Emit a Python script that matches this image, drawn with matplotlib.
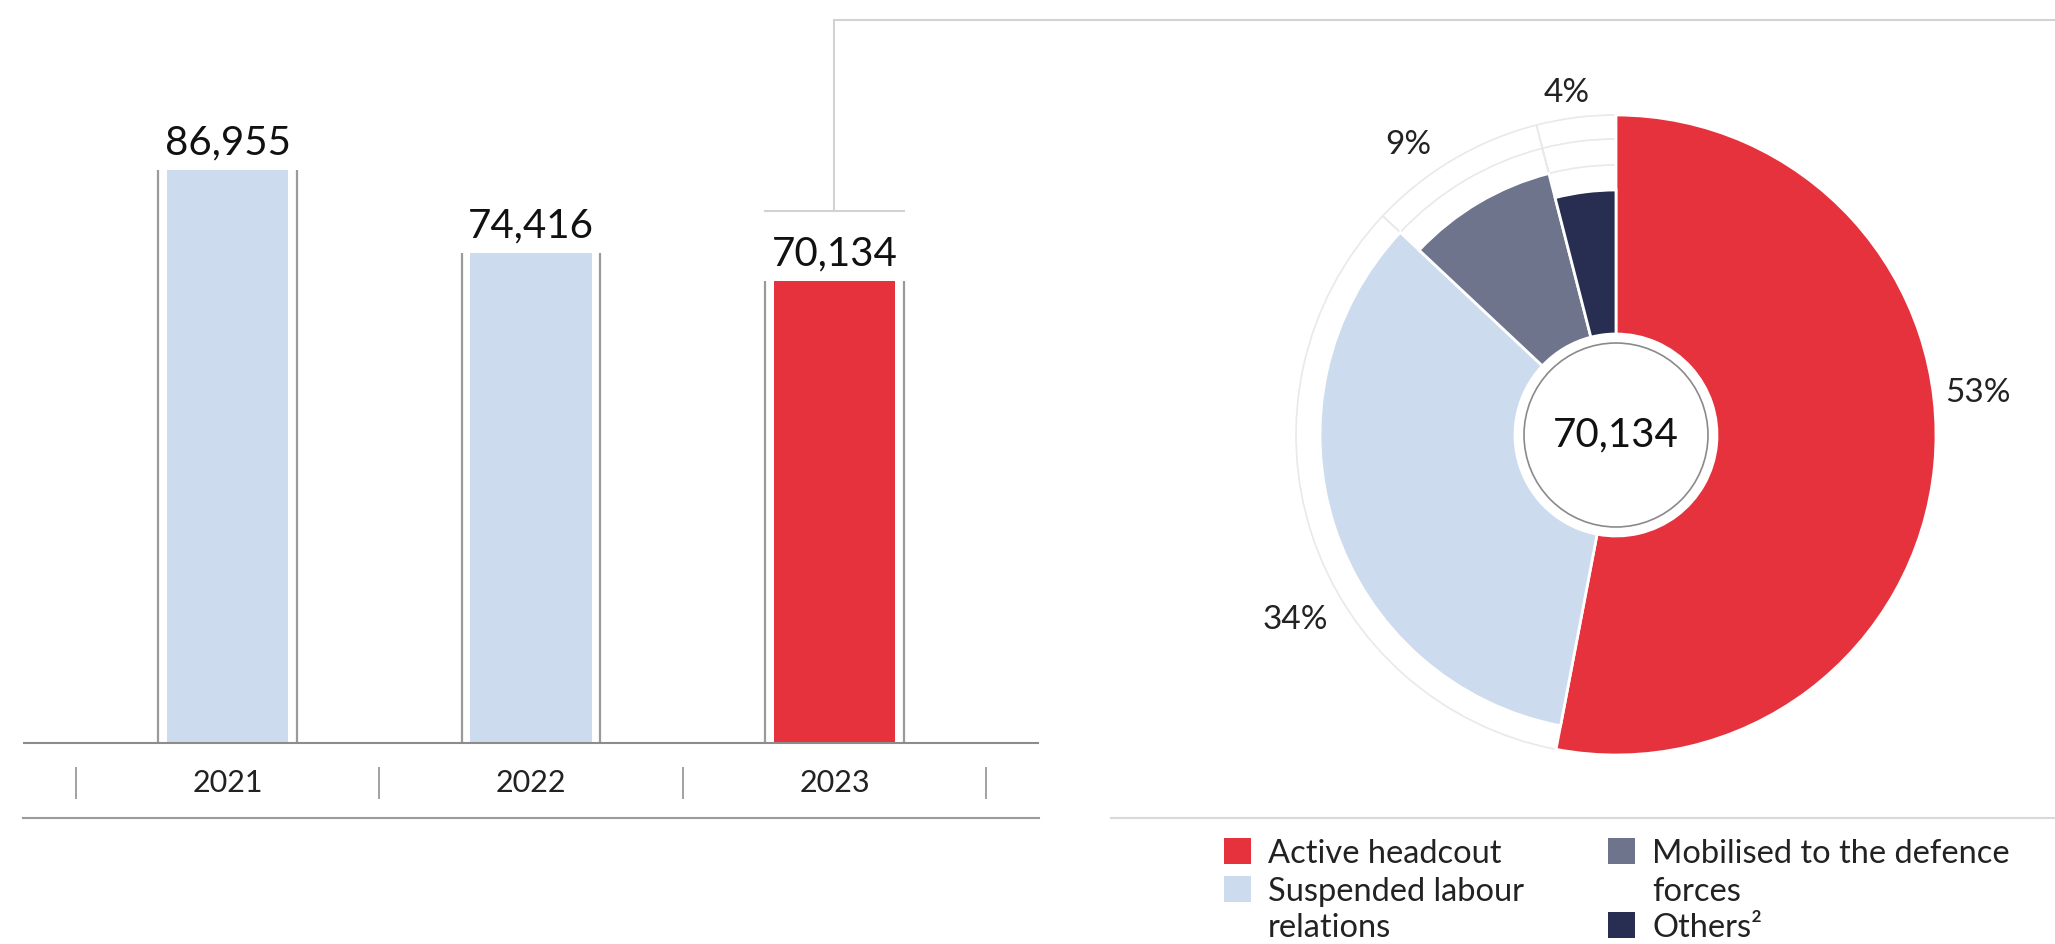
import matplotlib
matplotlib.use("Agg")
import matplotlib.pyplot as plt
import numpy as np
from matplotlib.patches import Wedge, Circle, Rectangle
from matplotlib.lines import Line2D

plt.rcParams['font.family'] = ['Lato', 'DejaVu Sans']

# data
years = ['2021', '2022', '2023']
headcount = [86955, 74416, 70134]
bar_colors = ['#ccdcee', '#ccdcee', '#e5323c']

groups = ['Active headcout', 'Suspended labour\nrelations',
          'Mobilised to the defence\nforces', 'Others²']
shares = [53, 34, 9, 4]
group_colors = ['#e5323c', '#ccdcee', '#6d748c', '#282e52']
total_2023 = '70,134'

W, H = 2055, 944
fig = plt.figure(figsize=(W / 100, H / 100), dpi=100, facecolor='white')


def px_axes(x0, y0, x1, y1):
    # pixel box (top-left origin) -> axes
    return fig.add_axes([x0 / W, 1 - y1 / H, (x1 - x0) / W, (y1 - y0) / H])


# ---------- bar chart ----------
ax = px_axes(23, 20, 1039, 818)
ax.set_xlim(-0.674, 2.674)
unit = 573 / 86955  # px per employee
ax.set_ylim(-(818 - 743) / unit, (743 - 20) / unit)
ax.axis('off')

x = np.arange(len(years))
ax.bar(x, headcount, width=0.4, color=bar_colors, zorder=2)
half = 0.229
ax.vlines(x - half, 0, headcount, color='#9a9a9a', lw=1.6, zorder=2)
ax.vlines(x + half, 0, headcount, color='#9a9a9a', lw=1.6, zorder=2)
for i, v in enumerate(headcount):
    ax.annotate(f'{v:,}', (x[i], v), xytext=(0, 11), textcoords='offset points',
                ha='center', va='baseline', fontsize=29, color='#111111')
    ax.text(x[i], -40 / unit, years[i], ha='center', va='center',
            fontsize=22, color='#222222')

ax.axhline(0, color='#8c8c8c', lw=1.5, zorder=3)
ax.axhline(ax.get_ylim()[0], color='#9a9a9a', lw=1.5, clip_on=False)
ax.vlines(np.arange(-0.5, len(years)), -24 / unit, -56 / unit,
          color='#9a9a9a', lw=1.3)

# connector from the 2023 bar to the donut panel
cap = headcount[2] + 70 / unit
ax.plot([x[2] - half, x[2] + half], [cap, cap], color='#d2d2d2', lw=1.5)
ax.plot([x[2], x[2]], [cap, ax.get_ylim()[1]], color='#d2d2d2', lw=1.5,
        clip_on=False)
xf = ax.transData.transform((x[2], 0))[0] / W
fig.add_artist(Line2D([xf, 1], [1 - 20 / H, 1 - 20 / H], color='#d2d2d2',
                      lw=1.5, transform=fig.transFigure))

# ---------- donut ----------
cx, cy, hs = 1616, 435, 430
ax2 = px_axes(cx - hs, cy - hs, cx + hs, cy + hs)
ax2.set_xlim(-hs, hs)
ax2.set_ylim(-hs, hs)
ax2.axis('off')

radii = [320, 296, 270, 245]
r_in = 101
label_shift = [12, 12, 5, 1]
label_r = [364, 370, 357, 346]

start = 90.0
for i, s in enumerate(shares):
    t2 = start
    t1 = start - s * 3.6
    start = t1
    ax2.add_patch(Wedge((0, 0), radii[i], t1, t2, width=radii[i] - r_in,
                        facecolor=group_colors[i], edgecolor='white', lw=2,
                        zorder=3))
    # faint guide rings for the shorter slices
    for rk in radii:
        if rk > radii[i]:
            ax2.add_patch(Wedge((0, 0), rk, t1, t2, width=rk - radii[i],
                                fill=False, edgecolor='#e9e9e9', lw=1.2,
                                zorder=1))
    ang = np.deg2rad((t1 + t2) / 2 + label_shift[i])
    ax2.text(label_r[i] * np.cos(ang), label_r[i] * np.sin(ang), f'{s}%',
             ha='center', va='center', fontsize=24, color='#222222')

ax2.add_patch(Circle((0, 0), 92, facecolor='white', edgecolor='#8a8a8a',
                     lw=1.2, zorder=4))
ax2.text(0, 0, total_2023, ha='center', va='center', fontsize=29,
         color='#111111', zorder=5)

# ---------- legend ----------
fig.add_artist(Line2D([1111 / W, 1], [1 - 818 / H, 1 - 818 / H],
                      color='#d9d9d9', lw=1.5, transform=fig.transFigure))
leg_x = [1224, 1608]
row_y = [851, 889, 925]
rows_used = [0, 0]
for i, name in enumerate(groups):
    col = i // 2
    lx = leg_x[col]
    r0 = rows_used[col]
    fig.add_artist(Rectangle((lx / W, 1 - (row_y[r0] + 13) / H), 27 / W, 26 / H,
                             facecolor=group_colors[i], edgecolor='none',
                             transform=fig.transFigure))
    for line in name.split('\n'):
        fig.text((lx + 44) / W, 1 - row_y[rows_used[col]] / H, line,
                 ha='left', va='center_baseline', fontsize=23.5,
                 color='#222222')
        rows_used[col] += 1

fig.savefig('out.png', dpi=100, facecolor='white')
